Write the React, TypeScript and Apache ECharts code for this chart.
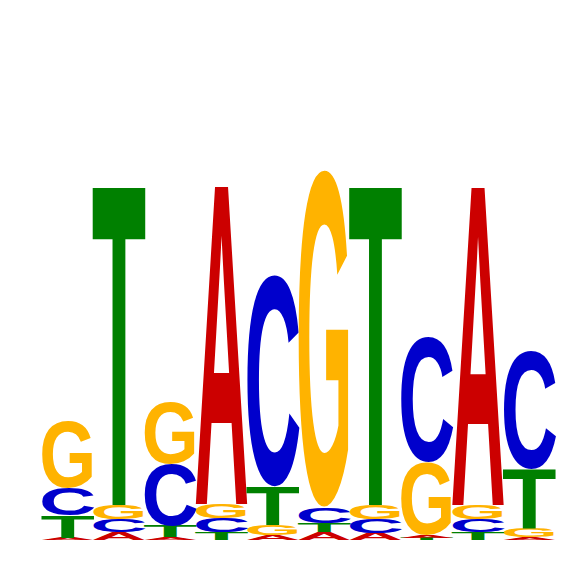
import { useEffect, useRef } from 'react';
import * as echarts from 'echarts';

// sequence logo, information content in bits per position
const positions = [1, 2, 3, 4, 5, 6, 7, 8, 9, 10];
const letters = ['A', 'C', 'G', 'T'];
const aBits = [0.008, 0.03, 0.011, 1.196, 0.019, 0.03, 0.026, 0.011, 1.196, 0.011];
const cBits = [0.102, 0.049, 0.233, 0.052, 0.8, 0.057, 0.052, 0.472, 0.049, 0.449];
const gBits = [0.253, 0.053, 0.235, 0.054, 0.038, 1.275, 0.054, 0.272, 0.053, 0.034];
const tBits = [0.083, 1.196, 0.042, 0.03, 0.143, 0.034, 1.196, 0.008, 0.03, 0.223];
const colors = ['#cc0000', '#0000cc', '#ffb300', '#008000'];

const FONT_SIZE = 100;
const CENTRAL = 0.3467; // svg "central" baseline above alphabetic, in em
// ink box of each glyph in em: width, top above baseline, bottom below baseline
const glyphs = [
  { w: 0.66, top: 0.688, bot: 0 },
  { w: 0.636, top: 0.7, bot: 0.012 },
  { w: 0.69, top: 0.7, bot: 0.012 },
  { w: 0.566, top: 0.688, bot: 0 },
];

function buildStacks() {
  const all = [aBits, cBits, gBits, tBits];
  const out: number[][] = [];
  positions.forEach((p, i) => {
    const col = letters.map((_, li) => ({ li, v: all[li][i] })).filter((d) => d.v > 0);
    col.sort((a, b) => a.v - b.v);
    let base = 0;
    col.forEach((d) => {
      out.push([p, base, d.v, d.li]);
      base += d.v;
    });
  });
  return out;
}

export default function App() {
  const chartRef = useRef<HTMLDivElement>(null);

  useEffect(() => {
    if (!chartRef.current) return;
    const chart = echarts.init(chartRef.current, undefined, { renderer: 'svg' });
    const HALF = 0.492;

    chart.setOption({
      animation: false,
      grid: { left: 42, right: 11, top: 10, bottom: 26 },
      xAxis: { type: 'value', min: 0.5, max: 10.5, show: false },
      yAxis: { type: 'value', min: 0, max: 2, show: false },
      series: [
        {
          type: 'custom',
          silent: true,
          data: buildStacks(),
          renderItem: (params: any, api: any) => {
            const pos = api.value(0);
            const base = api.value(1);
            const h = api.value(2);
            const li = api.value(3);
            const [x0, yb] = api.coord([pos - HALF, base]);
            const [x1, yt] = api.coord([pos + HALF, base + h]);
            const g = glyphs[li];
            const sx = (x1 - x0) / (g.w * FONT_SIZE);
            const sy = (yb - yt) / ((g.top + g.bot) * FONT_SIZE);
            return {
              type: 'text',
              x: (x0 + x1) / 2,
              y: yb - (CENTRAL + g.bot) * FONT_SIZE * sy,
              scaleX: sx,
              scaleY: sy,
              style: {
                x: 0,
                y: 0,
                text: letters[li],
                font: `bold ${FONT_SIZE}px "Liberation Sans"`,
                fill: colors[li],
                textFill: colors[li],
                align: 'center',
                verticalAlign: 'middle',
                textAlign: 'center',
                textVerticalAlign: 'middle',
              },
            };
          },
        },
      ],
    });

    return () => chart.dispose();
  }, []);

  return (
    <div
      ref={chartRef}
      style={{ position: 'absolute', left: 0, top: 0, width: 566, height: 566 }}
    />
  );
}
